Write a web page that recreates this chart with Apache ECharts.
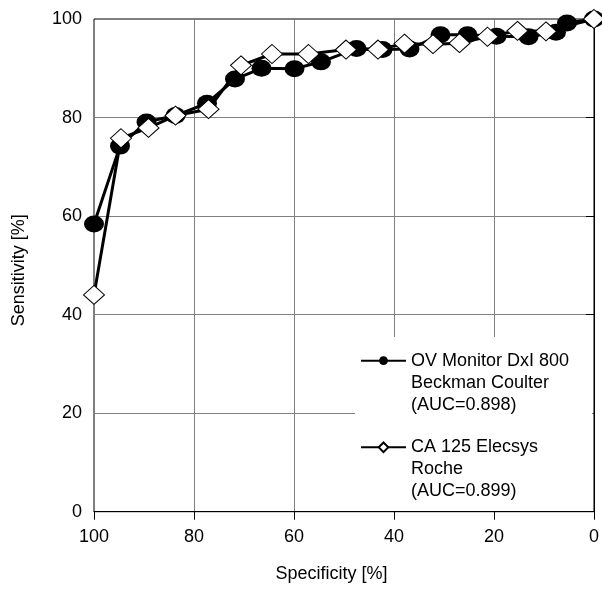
<!DOCTYPE html>
<html>
<head>
<meta charset="utf-8">
<script src="https://cdn.jsdelivr.net/npm/echarts@6/dist/echarts.min.js"></script>
<style>
html,body{margin:0;padding:0;background:#fff;}
#chart{width:602px;height:590px;}
</style>
</head>
<body>
<div id="chart"></div>
<script>
// Series 1: OV Monitor DxI 800 (Beckman Coulter)
const specOV = [100, 94.8, 89.5, 83.7, 77.4, 71.8, 66.5, 59.9, 54.6, 47.5, 42.3, 36.9, 30.7, 25.3, 19.5, 13.1, 7.6, 5.4, 0];
const sensOV = [58.4, 74.2, 79.1, 80.4, 82.9, 87.8, 90.0, 89.9, 91.3, 94.0, 93.8, 93.9, 96.8, 96.8, 96.5, 96.4, 97.3, 99.2, 100];
// Series 2: CA 125 Elecsys (Roche)
const specCA = [100, 94.6, 89.1, 83.7, 77.1, 70.6, 64.4, 57.1, 49.6, 43.2, 37.9, 32.2, 26.9, 21.3, 15.3, 9.6, 0];
const sensCA = [44.0, 75.8, 77.9, 80.4, 81.7, 90.6, 92.9, 92.9, 93.8, 93.8, 95.0, 94.9, 95.1, 96.4, 97.6, 97.5, 100];

const seriesNames = ['OV Monitor DxI 800', 'CA 125 Elecsys'];
const legendLabels = ['OV Monitor DxI 800\nBeckman Coulter\n(AUC=0.898)', 'CA 125 Elecsys\nRoche\n(AUC=0.899)'];
const axisTicks = [0, 20, 40, 60, 80, 100];

const FONT = '"Liberation Sans", Arial, sans-serif';
const chart = echarts.init(document.getElementById('chart'), null, {renderer: 'canvas'});

function pairs(xs, ys) { return xs.map((x, i) => [x, ys[i]]); }

const legendText = {
  fontSize: 18, fontFamily: FONT, color: '#000', lineHeight: 22
};

const option = {
  animation: false,
  backgroundColor: '#fff',
  grid: {left: 94, right: 7.5, top: 19, bottom: 78.3, show: true, borderColor: '#000', borderWidth: 1, backgroundColor: 'transparent'},
  xAxis: {
    type: 'value', min: axisTicks[0], max: axisTicks[axisTicks.length - 1], interval: 20, inverse: true,
    name: 'Specificity [%]', nameLocation: 'middle', nameGap: 53,
    nameTextStyle: {fontSize: 18, fontFamily: FONT, color: '#000', padding: [0, 25, 0, 0]},
    axisLine: {show: true, lineStyle: {color: '#000', width: 1}},
    axisTick: {show: true, inside: false, length: 8, lineStyle: {color: '#000'}},
    axisLabel: {fontSize: 18, fontFamily: FONT, color: '#000', margin: 16},
    splitLine: {show: true, showMinLine: false, showMaxLine: false, lineStyle: {color: '#808080', width: 1}}
  },
  yAxis: {
    type: 'value', min: axisTicks[0], max: axisTicks[axisTicks.length - 1], interval: 20,
    name: 'Sensitivity [%]', nameLocation: 'middle', nameGap: 66,
    nameTextStyle: {fontSize: 18, fontFamily: FONT, color: '#000', padding: [0, 10, 0, 0]},
    axisLine: {show: true, lineStyle: {color: '#000', width: 1}},
    axisTick: {show: true, inside: false, length: 8, lineStyle: {color: '#000'}},
    axisLabel: {fontSize: 18, fontFamily: FONT, color: '#000', margin: 12},
    splitLine: {show: true, showMinLine: false, showMaxLine: false, lineStyle: {color: '#808080', width: 1}}
  },
  graphic: [{
    type: 'rect', z: 1, silent: true,
    shape: {x: 355, y: 337, width: 237.5, height: 174},
    style: {fill: '#fff'}
  }],
  legend: [
    {
      data: [seriesNames[0]], orient: 'vertical', left: 360, top: 305.7, padding: 0,
      itemWidth: 45, itemHeight: 11, z: 3,
      formatter: () => '\n\n' + legendLabels[0],
      textStyle: legendText
    },
    {
      data: [seriesNames[1]], orient: 'vertical', left: 360, top: 392.3, padding: 0,
      itemWidth: 45, itemHeight: 12, z: 3,
      formatter: () => '\n\n' + legendLabels[1],
      textStyle: legendText
    }
  ],
  series: [
    {
      name: seriesNames[0], type: 'line', data: pairs(specOV, sensOV), z: 2,
      symbol: 'path://M0,10A10,10,0,1,1,20,10A10,10,0,1,1,0,10Z', symbolSize: [20, 17],
      lineStyle: {color: '#000', width: 3},
      itemStyle: {color: '#000', borderColor: '#000', borderWidth: 0}
    },
    {
      name: seriesNames[1], type: 'line', data: pairs(specCA, sensCA), z: 3,
      symbol: 'diamond', symbolSize: [21, 19],
      lineStyle: {color: '#000', width: 3},
      itemStyle: {color: '#fff', borderColor: '#000', borderWidth: 1}
    }
  ]
};
chart.setOption(option);
</script>
</body>
</html>
